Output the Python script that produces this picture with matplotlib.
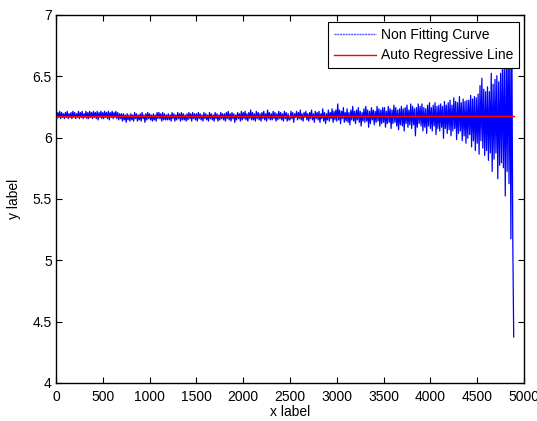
import numpy as np
import matplotlib
matplotlib.use("Agg")
import matplotlib.pyplot as plt

plt.rcParams['font.family'] = ['Liberation Sans', 'DejaVu Sans']

# ---- data ----
baseline = 6.175          # auto regressive level
x_step = 10               # spacing of the sampled points
# deviations of the noisy curve from the baseline, in units of 0.01
dev = [
    2, -2, 3, -1, 4, -2, 3, -1, 2, -2,
    3, -1, 4, -2, 2, -1, 3, -2, 4, -1,
    3, -2, 2, -1, 4, -2, 3, -1, 4, -2,
    2, -1, 4, -2, 3, -2, 4, -1, 3, -2,
    4, -1, 3, -2, 4, -3, 3, -1, 4, -2,
    3, -2, 4, -1, 3, -2, 4, -3, 3, -1,
    4, -2, 3, -1, 4, -2, 3, -3, 2, -2,
    2, -4, 2, -3, 1, -5, 2, -3, 1, -4,
    2, -3, 1, -4, 3, -2, 2, -4, 1, -3,
    2, -4, 3, -2, 1, -5, 2, -3, 3, -2,
    2, -3, 1, -4, 2, -3, 1, -4, 3, -2,
    3, -2, 2, -4, 3, -3, 2, -3, 1, -3,
    2, -3, 1, -4, 3, -2, 2, -4, 1, -3,
    3, -2, 2, -4, 3, -3, 2, -3, 1, -4,
    2, -3, 3, -2, 2, -4, 3, -2, 2, -3,
    2, -4, 3, -2, 2, -3, 1, -4, 3, -2,
    2, -3, 1, -4, 3, -2, 2, -3, 1, -4,
    3, -2, 2, -4, 1, -3, 3, -2, 2, -3,
    2, -4, 3, -2, 4, -3, 2, -4, 3, -2,
    2, -5, 1, -3, 3, -2, 2, -4, 4, -3,
    3, -2, 4, -3, 2, -4, 3, -2, 5, -3,
    3, -3, 2, -4, 4, -2, 3, -3, 2, -4,
    3, -2, 4, -3, 2, -4, 5, -2, 3, -3,
    2, -3, 4, -2, 3, -4, 2, -3, 4, -2,
    3, -3, 2, -4, 4, -2, 3, -4, 2, -3,
    -3, 4, -2, 3, -5, 2, -1, 4, -3, 3,
    -2, 5, -3, 2, -4, 3, -1, 4, -3, 2,
    -4, 3, -2, 5, -3, 2, -5, 4, -2, 3,
    -3, 4, -5, 2, -2, 6, -4, 3, -6, 2,
    -3, 5, -4, 3, -2, 6, -5, 4, -3, 5,
    -4, 10, -3, 5, -6, 4, -2, 7, -5, 3,
    -4, 6, -5, 3, -7, 5, -3, 8, -4, 4,
    -6, 5, -3, 7, -5, 4, -8, 3, -4, 6,
    -5, 8, -4, 5, -9, 4, -6, 7, -3, 5,
    -7, 4, -5, 8, -4, 6, -8, 5, -6, 7,
    -5, 7, -9, 4, -6, 8, -5, 6, -10, 5,
    -6, 9, -5, 7, -8, 5, -11, 6, -7, 8,
    -8, 6, -12, 7, -6, 9, -9, 5, -7, 10,
    -10, 8, -7, 6, -16, 7, -9, 10, -6, 8,
    -8, 10, -12, 7, -9, 6, -14, 9, -8, 11,
    -10, 7, -12, 9, -8, 11, -15, 8, -10, 9,
    -12, 10, -9, 8, -18, 12, -10, 9, -14, 11,
    -11, 13, -16, 9, -12, 15, -10, 12, -19, 11,
    -14, 16, -12, 11, -20, 14, -16, 12, -22, 13,
    -18, 13, -15, 17, -25, 14, -20, 16, -28, 15,
    -22, 18, -31, 25, -20, 31, -26, 22, -32, 20,
    -28, 24, -36, 20, -30, 35, -45, 26, -35, 30,
    -30, 33, -51, 28, -40, 35, -38, 45, -42, 38,
    -65, 50, -45, 60, -55, 65, -100, 70, -100, -180,
]

x_ticks = [0, 500, 1000, 1500, 2000, 2500, 3000, 3500, 4000, 4500, 5000]
y_ticks = [4, 4.5, 5, 5.5, 6, 6.5, 7]
y_tick_labels = ['4', '4.5', '5', '5.5', '6', '6.5', '7']
series_names = ['Non Fitting Curve', 'Auto Regressive Line']

# ---- figure ----
W, H = 537, 421
fig = plt.figure(figsize=(W / 100, H / 100), dpi=100)
left, right, top, bottom = 56, 524, 15, 383
ax = fig.add_axes([left / W, (H - bottom) / H, (right - left) / W, (bottom - top) / H])

x = np.arange(len(dev)) * x_step
y = baseline + np.array(dev) / 100.0

ax.plot(x, y, color='#0000ff', lw=0.9, label=series_names[0])
ax.plot([x[0], x[-1]], [baseline, baseline], color='#ff0000', lw=1.0, label=series_names[1])

ax.set_xlim(0, 5000)
ax.set_ylim(4, 7)
ax.set_xticks(x_ticks)
ax.set_xticklabels([str(t) for t in x_ticks])
ax.set_yticks(y_ticks)
ax.set_yticklabels(y_tick_labels)
ax.tick_params(direction='in', top=True, right=True, length=4, width=0.8,
               labelsize=10)
ax.tick_params(axis='x', pad=5)
ax.tick_params(axis='y', pad=3)
for s in ax.spines.values():
    s.set_linewidth(1.0)

ax.set_xlabel('x label', fontsize=10)
ax.set_ylabel('y label', fontsize=10)
ax.xaxis.set_label_coords(0.5, (bottom - 405) / (bottom - top))
ax.yaxis.set_label_coords((21 - left) / (right - left), 0.5)

leg = ax.legend(loc='upper right', bbox_to_anchor=(1 - 5 / (right - left), 1 - 7 / (bottom - top)),
                borderaxespad=0, fontsize=10, frameon=True, fancybox=False,
                framealpha=1, edgecolor='black', handlelength=3.0,
                handletextpad=0.4, labelspacing=0.5, borderpad=0.4)
leg.get_frame().set_linewidth(0.8)
leg.get_lines()[0].set_color('#5a5aff')
leg.get_lines()[0].set_linestyle((0, (1.5, 0.5)))
leg.get_lines()[0].set_linewidth(1.0)

fig.savefig('out.png', dpi=100)
